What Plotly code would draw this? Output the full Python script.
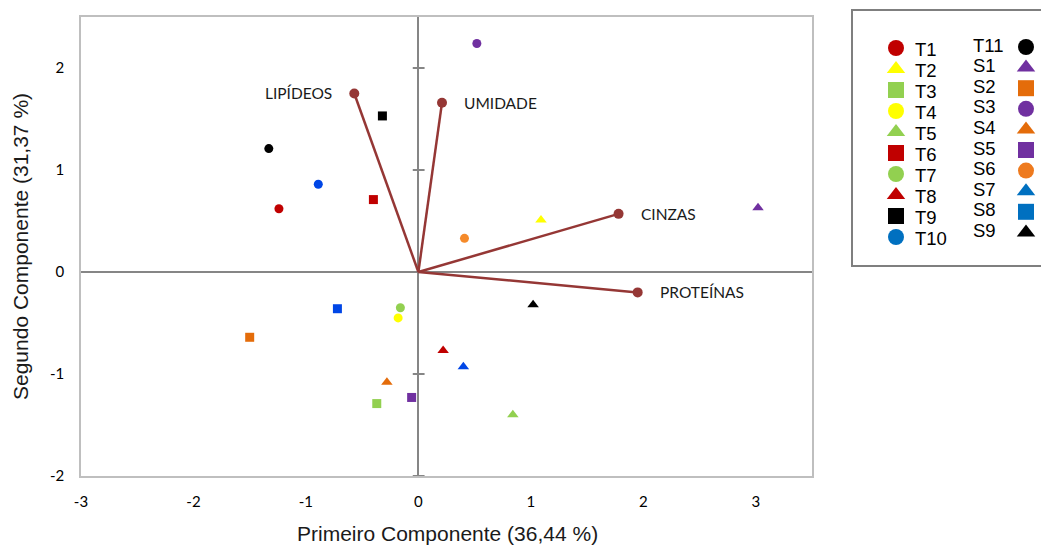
import plotly.graph_objects as go

# ---- data ----
samples = ["T1", "T2", "T3", "T4", "T5", "T6", "T7", "T8", "T9", "T10", "T11",
           "S1", "S2", "S3", "S4", "S5", "S6", "S7", "S8", "S9"]
pc1 = [-1.24, 1.09, -0.37, -0.18, 0.84, -0.40, -0.16, 0.22, -0.32, -0.89, -1.33,
       3.02, -1.50, 0.52, -0.28, -0.06, 0.41, 0.40, -0.72, 1.02]
pc2 = [0.62, 0.51, -1.29, -0.45, -1.40, 0.71, -0.35, -0.77, 1.53, 0.86, 1.21,
       0.63, -0.64, 2.24, -1.08, -1.23, 0.33, -0.93, -0.36, -0.32]

variables = ["LIPÍDEOS", "UMIDADE", "CINZAS", "PROTEÍNAS"]
load1 = [-0.57, 0.21, 1.78, 1.95]
load2 = [1.75, 1.66, 0.57, -0.20]

x_ticks = [-3, -2, -1, 0, 1, 2, 3]
y_ticks = [-2, -1, 0, 1, 2]
x_ticktext = ["-3", "-2", "-1", "0", "1", "2", "3"]
y_ticktext = ["-2", "-1", "0", "1", "2"]

# ---- styles ----
symbols = ["circle", "triangle-up", "square", "circle", "triangle-up", "square", "circle",
           "triangle-up", "square", "circle", "circle",
           "triangle-up", "square", "circle", "triangle-up", "square", "circle",
           "triangle-up", "square", "triangle-up"]
colors = ["#C00000", "#FFFF00", "#92D050", "#FFFF00", "#92D050", "#C00000", "#92D050",
          "#C00000", "#000000", "#0046E6", "#000000",
          "#7030A0", "#E46C0A", "#7030A0", "#E46C0A", "#7030A0", "#F58A2A",
          "#0046E6", "#0046E6", "#000000"]
legend_colors = [c if c != "#0046E6" else "#0070C0" for c in colors]
legend_colors[16] = "#EE7A1E"
sizes = {"circle": 9, "square": 9, "triangle-up": 10}

W, H = 1041, 545
L, R, T, B = 81, 812, 17, 476
LEG_L, LEG_B = 845, 275

fig = go.Figure()

# biplot vectors
vec_color = "#953735"
for name, vx, vy in zip(variables, load1, load2):
    fig.add_trace(go.Scatter(
        x=[0, vx], y=[0, vy], mode="lines+markers",
        line=dict(color=vec_color, width=2.5),
        marker=dict(size=[0, 10], color=vec_color, opacity=1, line=dict(width=0)),
        showlegend=False, hoverinfo="skip"))

# sample scores
for name, x, y, s, c in zip(samples, pc1, pc2, symbols, colors):
    fig.add_trace(go.Scatter(
        x=[x], y=[y], mode="markers", name=name,
        marker=dict(symbol=s, size=sizes[s], color=c, line=dict(width=0)),
        showlegend=False))

# vector labels
label_pos = {"LIPÍDEOS": ("right", -20), "UMIDADE": ("left", 20),
             "CINZAS": ("left", 20), "PROTEÍNAS": ("left", 20)}
for name, vx, vy in zip(variables, load1, load2):
    anchor, dx = label_pos[name]
    fig.add_annotation(x=vx, y=vy, text=name, showarrow=False,
                       xanchor=anchor, yanchor="middle", xshift=dx, yshift=0,
                       font=dict(family="Lato, Carlito, sans-serif", size=15.5, color="#1a1a1a"))

# small tick marks on the vertical zero line
for yt in y_ticks:
    if yt == 0:
        continue
    fig.add_shape(type="line", xref="x", yref="y", x0=-0.05, x1=0.055, y0=yt, y1=yt,
                  line=dict(color="#868686", width=2), layer="below")

# custom legend (separate axes in pixel units, placed beside the plot)
fig.add_shape(type="rect", xref="paper", yref="paper",
              x0=852 / W, x1=1.02, y0=1 - 266 / H, y1=1 - 10 / H,
              line=dict(color="#7F7F7F", width=2), fillcolor="rgba(0,0,0,0)")
leg_font = dict(family="Liberation Sans, Arial, sans-serif", size=18.5, color="#000000")
for i, (name, s, c) in enumerate(zip(samples, symbols, legend_colors)):
    if i < 10:
        mx, my = 896, 48 + 21 * i
        fig.add_annotation(xref="x2", yref="y2", x=913, y=my + 1, text=name, showarrow=False,
                           xanchor="left", yanchor="middle", font=leg_font)
    else:
        j = i - 10
        mx, my = 1026, 47 + 20.6 * j
        fig.add_annotation(xref="x2", yref="y2", x=971, y=my - 2, text=name, showarrow=False,
                           xanchor="left", yanchor="middle", font=leg_font)
    fig.add_trace(go.Scatter(
        x=[mx], y=[my], xaxis="x2", yaxis="y2", mode="markers",
        marker=dict(symbol=s, size=16, color=c, line=dict(width=0)),
        showlegend=False, hoverinfo="skip"))

# axis titles
title_font = dict(family="Liberation Sans, Arial, sans-serif", size=21, color="#1a1a1a")
fig.add_annotation(xref="paper", yref="paper", x=447 / W, y=1 - 533 / H,
                   text="Primeiro Componente (36,44 %)", showarrow=False,
                   xanchor="center", yanchor="middle", font=title_font)
fig.add_annotation(xref="paper", yref="paper", x=20 / W, y=1 - 247 / H,
                   text="Segundo Componente (31,37 %)", showarrow=False, textangle=-90,
                   xanchor="center", yanchor="middle", font=title_font)

tick_font = dict(family="Lato, Carlito, sans-serif", size=15, color="#000000")
fig.update_layout(
    width=W, height=H, margin=dict(l=0, r=0, t=0, b=0, autoexpand=False),
    plot_bgcolor="white", paper_bgcolor="white",
    xaxis=dict(domain=[L / W, R / W], range=[-3, 3.5], tickvals=x_ticks, ticktext=x_ticktext,
               showgrid=False, zeroline=True, zerolinecolor="#868686", zerolinewidth=2,
               showline=True, mirror=True, linecolor="#BFBFBF", linewidth=1.5,
               ticks="", ticklabelstandoff=11, tickfont=tick_font, automargin=False),
    yaxis=dict(domain=[1 - B / H, 1 - T / H], range=[-2, 2.5], tickvals=y_ticks,
               ticktext=y_ticktext,
               showgrid=False, zeroline=True, zerolinecolor="#868686", zerolinewidth=2,
               showline=True, mirror=True, linecolor="#BFBFBF", linewidth=1.5,
               ticks="", ticklabelstandoff=12, tickfont=tick_font, automargin=False),
    xaxis2=dict(domain=[LEG_L / W, 1], range=[LEG_L, W], visible=False, anchor="y2",
                fixedrange=True, automargin=False),
    yaxis2=dict(domain=[1 - LEG_B / H, 1], range=[LEG_B, 0], visible=False, anchor="x2",
                fixedrange=True, automargin=False),
)

fig.write_html("out.html", config={"displayModeBar": False, "responsive": False},
               post_script="document.body.style.margin='0px';")
